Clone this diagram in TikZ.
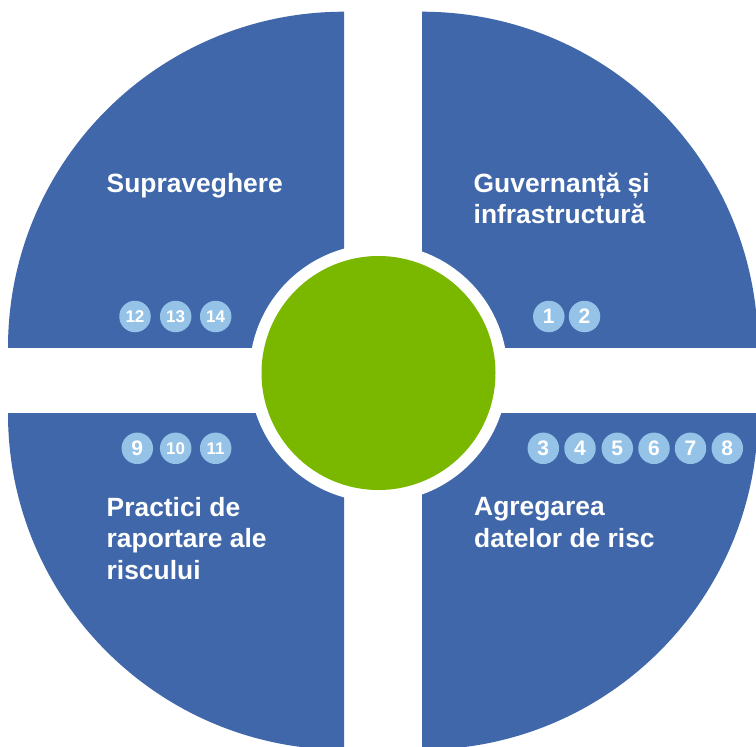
\documentclass[tikz,border=0pt]{standalone}
\usepackage{fontspec}
\setmainfont{Liberation Sans}
\definecolor{quadblue}{RGB}{63,103,170}
\definecolor{dotblue}{RGB}{149,195,232}
\definecolor{hubgreen}{RGB}{122,184,0}
\begin{document}
\begin{tikzpicture}[x=1pt,y=-1pt,
  quad/.style={fill=quadblue},
  title/.style={anchor=base west,inner sep=0pt,text=white,font=\fontsize{26.4}{31}\selectfont\bfseries},
  dot/.style={circle,fill=dotblue,minimum size=31.5pt,inner sep=0pt,text=white,font=\fontsize{21}{22}\selectfont\bfseries},
  dotsm/.style={dot,font=\fontsize{17}{18}\selectfont\bfseries}]
\useasboundingbox (0,0) rectangle (756,747);
% quadrants
\begin{scope}\clip (0,0) rectangle (344,347.7);
  \fill[quad] (344,347.7) circle[radius=336];\end{scope}
\begin{scope}\clip (422,0) rectangle (756,347.7);
  \fill[quad] (422,347.7) circle[radius=336];\end{scope}
\begin{scope}\clip (0,413.7) rectangle (344,747);
  \fill[quad] (344,413.7) circle[radius=336];\end{scope}
\begin{scope}\clip (422,413.7) rectangle (756,747);
  \fill[quad] (422,413.7) circle[radius=336];\end{scope}
% hub
\node[circle,fill=white,minimum size=258pt,inner sep=0pt] (ring) at (378.5,373) {};
\node[circle,fill=hubgreen,minimum size=234pt,inner sep=0pt] (hub) at (378.5,373) {};
% titles
\node[title] (t1) at (106.5,192) {Supraveghere};
\node[title] (t2a) at (473.5,192) {Guvernanță și};
\node[title] (t2b) at (473.5,223) {infrastructură};
\node[title] (t3a) at (106.5,516) {Practici de};
\node[title] (t3b) at (106.5,547.5) {raportare ale};
\node[title] (t3c) at (106.5,579) {riscului};
\node[title] (t4a) at (474,515) {Agregarea};
\node[title] (t4b) at (474,547) {datelor de risc};
% numbered dots
\node[dotsm] (n12) at (135,316.5) {12};
\node[dotsm] (n13) at (175.7,316.5) {13};
\node[dotsm] (n14) at (215.7,316.5) {14};
\node[dot] (n1) at (548.8,316.5) {1};
\node[dot] (n2) at (584.5,316.5) {2};
\node[dot] (n9) at (137.3,448.3) {9};
\node[dotsm] (n10) at (175.7,448.3) {10};
\node[dotsm] (n11) at (215.7,448.3) {11};
\node[dot] (n3) at (543.3,448.3) {3};
\node[dot] (n4) at (580,448.3) {4};
\node[dot] (n5) at (617.3,448.3) {5};
\node[dot] (n6) at (654,448.3) {6};
\node[dot] (n7) at (690.5,448.3) {7};
\node[dot] (n8) at (727.3,448.3) {8};
\end{tikzpicture}
\end{document}
